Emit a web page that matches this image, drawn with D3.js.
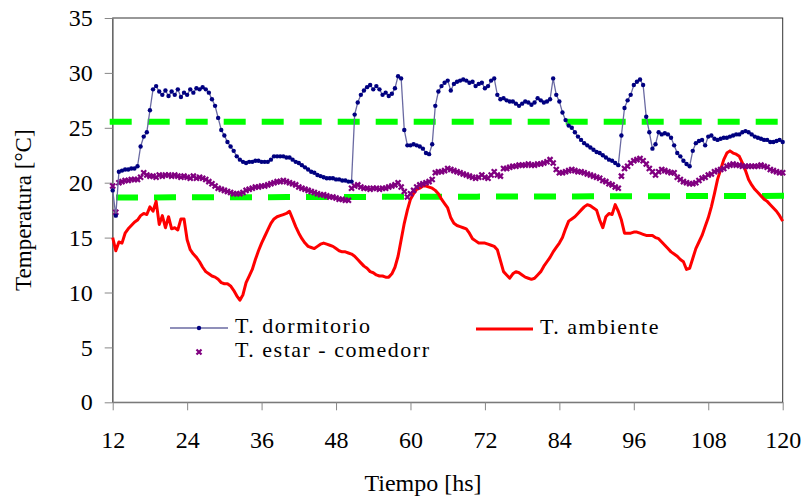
<!DOCTYPE html>
<html>
<head>
<meta charset="utf-8">
<script src="https://cdn.jsdelivr.net/npm/d3@7"></script>
<style>
  body { margin: 0; background: #fff; }
  svg text { font-family: 'Liberation Serif', serif; fill: #000; }
</style>
</head>
<body>
<script>
// ---------------Data---------------
// readings every half hour, from hour 12 to hour 120
const startHour = 12
const stepHours = 0.5

const hourTicks = [12, 24, 36, 48, 60, 72, 84, 96, 108, 120]
const tempTicks = [0, 5, 10, 15, 20, 25, 30, 35]

const dormitorio = [
  19.3, 17.0, 21.0, 21.1, 21.2, 21.2, 21.3, 21.3, 21.5, 23.3, 24.2, 24.6, // 12
  26.6, 28.5, 28.8, 28.3, 28.0, 28.4, 27.9, 28.3, 28.0, 28.5, 27.8, 28.2, // 18
  28.0, 28.5, 28.2, 28.6, 28.5, 28.7, 28.5, 28.2, 27.6, 27.0, 25.9, 24.8, // 24
  24.3, 23.7, 23.3, 22.9, 22.4, 22.1, 21.9, 21.8, 21.9, 21.9, 22.0, 22.0, // 30
  21.9, 21.9, 21.9, 22.1, 22.4, 22.4, 22.4, 22.4, 22.3, 22.3, 22.1, 21.9, // 36
  21.8, 21.6, 21.4, 21.2, 21.0, 20.9, 20.7, 20.6, 20.5, 20.4, 20.4, 20.4, // 42
  20.3, 20.3, 20.2, 20.2, 20.1, 20.1, 26.2, 27.3, 28.0, 28.4, 28.7, 28.9, // 48
  28.5, 28.8, 28.5, 28.0, 28.2, 27.9, 28.1, 28.6, 29.7, 29.5, 24.8, 23.4, // 54
  23.4, 23.5, 23.4, 23.3, 23.1, 22.7, 22.6, 23.5, 27.0, 28.3, 28.8, 29.1, // 60
  29.3, 28.4, 29.0, 29.2, 29.3, 29.4, 29.3, 29.1, 29.2, 28.8, 29.0, 29.1, // 66
  28.6, 28.8, 29.3, 29.5, 28.0, 27.6, 27.7, 27.5, 27.4, 27.4, 27.2, 27.0, // 72
  27.2, 27.4, 27.3, 27.1, 27.3, 27.7, 27.5, 27.3, 27.4, 27.6, 29.5, 28.0, // 78
  27.4, 26.4, 25.7, 25.2, 25.0, 24.6, 24.2, 23.9, 23.6, 23.4, 23.2, 23.0, // 84
  22.8, 22.7, 22.5, 22.3, 22.1, 22.0, 21.8, 21.6, 24.3, 26.8, 27.5, 28.0, // 90
  28.9, 29.2, 29.4, 28.9, 26.0, 24.6, 23.1, 23.5, 24.6, 24.4, 24.5, 24.4, // 96
  24.1, 23.4, 22.7, 22.4, 22.0, 21.7, 21.5, 22.9, 23.6, 23.8, 23.9, 23.4, // 102
  24.2, 24.3, 24.0, 23.9, 24.0, 24.1, 24.1, 24.2, 24.3, 24.4, 24.4, 24.6, // 108
  24.7, 24.6, 24.4, 24.2, 24.1, 24.0, 23.9, 23.9, 23.7, 23.7, 23.8, 23.9, // 114
  23.7
]

const estarComedor = [
  19.7, 17.3, 20.0, 20.1, 20.2, 20.2, 20.3, 20.3, 20.3, 20.5, 20.9, 20.7,
  20.6, 20.6, 20.5, 20.7, 20.6, 20.7, 20.7, 20.6, 20.7, 20.6, 20.5, 20.6,
  20.5, 20.4, 20.6, 20.4, 20.5, 20.4, 20.3, 20.1, 19.9, 19.7, 19.5, 19.4,
  19.3, 19.2, 19.1, 19.0, 19.0, 19.0, 19.1, 19.3, 19.4, 19.5, 19.6, 19.6,
  19.7, 19.7, 19.8, 19.9, 20.0, 20.1, 20.1, 20.2, 20.1, 20.0, 19.9, 19.8,
  19.6, 19.5, 19.4, 19.3, 19.2, 19.1, 19.0, 18.9, 18.9, 18.8, 18.7, 18.7,
  18.6, 18.5, 18.5, 18.4, 18.4, 19.5, 19.7, 19.8, 19.6, 19.5, 19.5, 19.4,
  19.5, 19.5, 19.4, 19.5, 19.5, 19.6, 19.7, 19.8, 20.0, 19.6, 19.2, 18.7,
  19.0, 19.3, 19.6, 19.8, 19.9, 20.0, 20.1, 20.3, 20.9, 21.0, 21.0, 21.1,
  21.3, 21.2, 21.1, 21.0, 20.9, 20.8, 20.7, 20.6, 20.5, 20.4, 20.5, 20.7,
  20.5, 20.4, 20.7, 21.0, 20.7, 20.6, 21.3, 21.3, 21.4, 21.5, 21.5, 21.6,
  21.6, 21.6, 21.7, 21.6, 21.6, 21.7, 21.7, 21.8, 21.9, 22.1, 21.8, 21.2,
  20.9, 20.9, 21.0, 21.1, 21.2, 21.1, 21.0, 21.0, 20.9, 20.8, 20.7, 20.6,
  20.5, 20.4, 20.2, 20.1, 19.9, 19.8, 19.6, 19.5, 20.6, 21.3, 21.5, 21.8,
  22.0, 22.1, 22.2, 22.0, 21.7, 21.3, 21.0, 20.7, 21.0, 21.2, 21.1, 21.0,
  20.9, 20.9, 20.5, 20.3, 20.1, 20.0, 19.9, 19.9, 20.0, 20.2, 20.4, 20.5,
  20.7, 20.8, 21.0, 21.1, 21.2, 21.3, 21.5, 21.6, 21.7, 21.6, 21.6, 21.5,
  21.5, 21.5, 21.5, 21.5, 21.5, 21.6, 21.5, 21.4, 21.2, 21.1, 21.0, 20.9,
  20.9
]

const ambiente = [
  15.0, 13.8, 14.6, 14.5, 15.4, 15.8, 16.1, 16.4, 16.6, 17.0, 17.2, 17.1,
  17.8, 17.4, 18.3, 16.2, 17.0, 15.9, 16.9, 15.8, 15.9, 15.7, 16.7, 16.7,
  14.8, 13.9, 13.5, 13.2, 12.8, 12.3, 11.9, 11.7, 11.5, 11.4, 11.2, 10.9,
  10.8, 10.8, 10.6, 10.2, 9.7, 9.3, 9.8, 10.9, 11.5, 12.1, 13.0, 13.8,
  14.5, 15.1, 15.7, 16.3, 16.7, 16.9, 17.0, 17.1, 17.2, 17.4, 16.7, 16.0,
  15.4, 14.9, 14.5, 14.2, 14.1, 14.0, 14.2, 14.4, 14.5, 14.4, 14.3, 14.2,
  14.0, 13.8, 13.7, 13.7, 13.6, 13.5, 13.3, 13.0, 12.7, 12.4, 12.2, 11.9,
  11.8, 11.6, 11.5, 11.5, 11.4, 11.4, 11.7, 12.3, 13.3, 14.8, 16.3, 17.5,
  18.5, 19.0, 19.4, 19.5, 19.7, 19.7, 19.6, 19.5, 19.3, 19.0, 18.5, 18.1,
  17.7, 16.8, 16.3, 16.1, 16.0, 15.9, 15.8, 15.4, 14.9, 14.7, 14.5, 14.5,
  14.5, 14.4, 14.3, 14.2, 13.9, 12.9, 11.9, 11.6, 11.3, 11.7, 11.9, 11.8,
  11.6, 11.4, 11.3, 11.2, 11.3, 11.6, 11.9, 12.4, 12.8, 13.2, 13.7, 14.1,
  14.5, 15.0, 15.8, 16.5, 16.7, 16.9, 17.2, 17.5, 17.8, 18.0, 17.9, 17.7,
  17.5, 16.6, 15.9, 16.9, 17.2, 17.1, 18.0, 17.4, 16.6, 15.4, 15.4, 15.4,
  15.5, 15.5, 15.4, 15.3, 15.2, 15.2, 15.2, 15.0, 14.9, 14.6, 14.3, 14.0,
  13.7, 13.5, 13.3, 13.0, 12.8, 12.1, 12.2, 13.1, 14.0, 14.6, 15.2, 16.0,
  16.8, 17.8, 19.0, 20.3, 21.2, 22.1, 22.7, 22.9, 22.7, 22.6, 22.4, 21.8,
  21.1, 20.3, 19.8, 19.4, 19.1, 18.8, 18.5, 18.3, 18.0, 17.7, 17.4, 17.0,
  16.5
]

// comfort band limits (green dashed)
const limitHours = [12, 120]
const limitHigh = [25.55, 25.55]
const limitLow = [18.65, 18.8]

// ---------------Layout---------------
const fullWidth = 802
const fullHeight = 502
const margin = { top: 18, right: 19.3, bottom: 99.7, left: 112.7 }
const serif = 'Liberation Serif'

const svg = d3.select('body')
  .append('svg')
  .attr('width', fullWidth)
  .attr('height', fullHeight)

const x = d3.scaleLinear()
  .domain([12, 120])
  .range([margin.left, fullWidth - margin.right])

const y = d3.scaleLinear()
  .domain([0, 35])
  .range([fullHeight - margin.bottom, margin.top])

const toPoints = (vals) => vals.map((v, i) => ({ h: startHour + i * stepHours, v }))

// plot frame
svg.append('rect')
  .attr('x', x(12))
  .attr('y', y(35))
  .attr('width', x(120) - x(12))
  .attr('height', y(0) - y(35))
  .attr('fill', 'none')
  .attr('stroke', '#333')
  .attr('stroke-width', 1)

// ---------------Axes---------------
const xAxis = svg.append('g')
  .attr('transform', `translate(0,${y(0)})`)
  .call(d3.axisBottom(x).tickValues(hourTicks).tickSize(8).tickPadding(21).tickSizeOuter(0))

const yAxis = svg.append('g')
  .attr('transform', `translate(${x(12)},0)`)
  .call(d3.axisLeft(y).tickValues(tempTicks).tickSize(8).tickPadding(12).tickSizeOuter(0))

;[xAxis, yAxis].forEach(ax => {
  ax.attr('font-family', serif).attr('font-size', 24)
  ax.selectAll('path, line').attr('stroke', '#888')
  ax.selectAll('text')
    .style('font-family', serif)
    .style('font-size', '24px')
    .attr('fill', '#000')
})

svg.append('text')
  .attr('x', 423)
  .attr('y', 491)
  .attr('text-anchor', 'middle')
  .style('font-family', serif)
  .style('font-size', '24px')
  .text('Tiempo [hs]')

svg.append('text')
  .attr('transform', `translate(31,${(y(0) + y(35)) / 2}) rotate(-90)`)
  .attr('text-anchor', 'middle')
  .style('font-family', serif)
  .style('font-size', '23px')
  .text('Temperatura [°C]')

// ---------------Comfort limits---------------
const limitLine = d3.line()
  .x((d, i) => x(limitHours[i]))
  .y(d => y(d))

svg.append('path')
  .attr('d', limitLine(limitHigh))
  .attr('fill', 'none')
  .attr('stroke', '#00ff00')
  .attr('stroke-width', 6)
  .attr('stroke-linecap', 'square')
  .attr('stroke-dasharray', '16,22')

svg.append('path')
  .attr('d', limitLine(limitLow))
  .attr('fill', 'none')
  .attr('stroke', '#00ff00')
  .attr('stroke-width', 6)
  .attr('stroke-linecap', 'square')
  .attr('stroke-dasharray', '16,22')
  .attr('stroke-dashoffset', 31.7)

// ---------------Series---------------
const line = d3.line()
  .x(d => x(d.h))
  .y(d => y(d.v))

// T. ambiente
svg.append('path')
  .datum(toPoints(ambiente))
  .attr('d', line)
  .attr('fill', 'none')
  .attr('stroke', '#ff0000')
  .attr('stroke-width', 3)
  .attr('stroke-linejoin', 'round')

// T. estar - comedor (x markers only)
const xMark = 'M-2.5,-2.5L2.5,2.5M-2.5,2.5L2.5,-2.5'
svg.append('g')
  .selectAll('path')
  .data(toPoints(estarComedor))
  .enter().append('path')
  .attr('d', xMark)
  .attr('transform', d => `translate(${x(d.h)},${y(d.v)})`)
  .attr('stroke', '#800080')
  .attr('stroke-width', 2.2)

// T. dormitorio (thin line + dots)
const dormPts = toPoints(dormitorio)
svg.append('path')
  .datum(dormPts)
  .attr('d', line)
  .attr('fill', 'none')
  .attr('stroke', '#6a6aa2')
  .attr('stroke-width', 1.3)

svg.append('g')
  .selectAll('circle')
  .data(dormPts)
  .enter().append('circle')
  .attr('cx', d => x(d.h))
  .attr('cy', d => y(d.v))
  .attr('r', 2.2)
  .attr('fill', '#000080')

// ---------------Legend---------------
const legend = svg.append('g')

legend.append('line')
  .attr('x1', 170).attr('x2', 228)
  .attr('y1', 328).attr('y2', 328)
  .attr('stroke', '#6a6aa2')
  .attr('stroke-width', 1.5)
legend.append('circle')
  .attr('cx', 199).attr('cy', 328).attr('r', 2.2)
  .attr('fill', '#000080')
legend.append('text')
  .attr('x', 235).attr('y', 333)
  .style('font-family', serif)
  .style('font-size', '22px')
  .style('letter-spacing', '1.5px')
  .text('T. dormitorio')

legend.append('path')
  .attr('d', xMark)
  .attr('transform', 'translate(199,352)')
  .attr('stroke', '#800080')
  .attr('stroke-width', 2.2)
legend.append('text')
  .attr('x', 235).attr('y', 357)
  .style('font-family', serif)
  .style('font-size', '22px')
  .style('letter-spacing', '1.5px')
  .text('T. estar - comedorr')

legend.append('line')
  .attr('x1', 476).attr('x2', 533)
  .attr('y1', 329).attr('y2', 329)
  .attr('stroke', '#ff0000')
  .attr('stroke-width', 3)
legend.append('text')
  .attr('x', 540).attr('y', 334)
  .style('font-family', serif)
  .style('font-size', '22px')
  .style('letter-spacing', '1.5px')
  .text('T. ambiente')
</script>
</body>
</html>
